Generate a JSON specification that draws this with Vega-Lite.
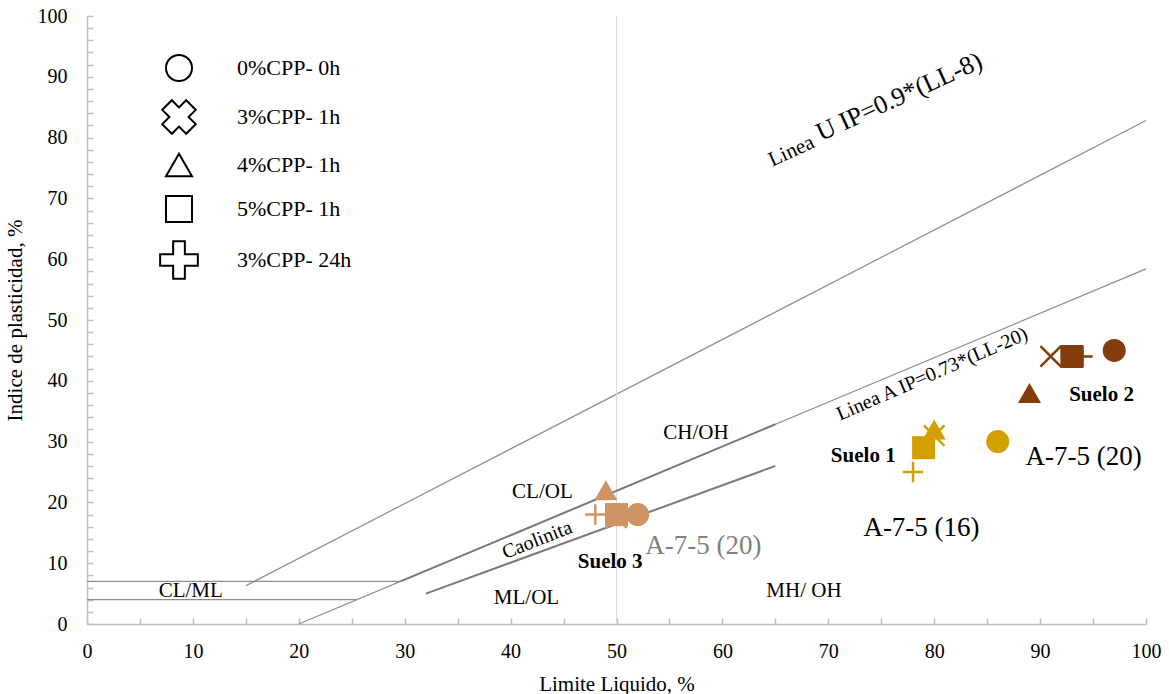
{
  "$schema": "https://vega.github.io/schema/vega-lite/v6.json",
  "autosize": "none",
  "width": 1059,
  "height": 608,
  "padding": {"left": 87, "top": 16, "right": 23, "bottom": 70},
  "background": "white",
  "config": {
    "view": {"stroke": null},
    "font": "Liberation Serif",
    "axis": {
      "grid": false,
      "domainColor": "#bfbfbf",
      "domainWidth": 1.5,
      "tickColor": "#bfbfbf",
      "tickWidth": 1.5,
      "tickSize": -6,
      "labelFont": "Liberation Serif",
      "labelFontSize": 20,
      "labelColor": "black",
      "labelOverlap": false,
      "labelFlush": false,
      "titleFont": "Liberation Serif",
      "titleFontSize": 21,
      "titleFontWeight": "normal",
      "titleColor": "black"
    }
  },
  "resolve": {"scale": {"shape": "independent"}, "legend": {"shape": "independent"}},
  "datasets": {
    "points": [
      {"suelo": "Suelo 2", "tratamiento": "0%CPP- 0h", "LL": 97, "IP": 45},
      {"suelo": "Suelo 2", "tratamiento": "3%CPP- 1h", "LL": 91, "IP": 44},
      {"suelo": "Suelo 2", "tratamiento": "4%CPP- 1h", "LL": 89, "IP": 38},
      {"suelo": "Suelo 2", "tratamiento": "5%CPP- 1h", "LL": 93, "IP": 44},
      {"suelo": "Suelo 2", "tratamiento": "3%CPP- 24h", "LL": 94, "IP": 44},
      {"suelo": "Suelo 1", "tratamiento": "0%CPP- 0h", "LL": 86, "IP": 30},
      {"suelo": "Suelo 1", "tratamiento": "3%CPP- 1h", "LL": 80, "IP": 31},
      {"suelo": "Suelo 1", "tratamiento": "4%CPP- 1h", "LL": 80, "IP": 32},
      {"suelo": "Suelo 1", "tratamiento": "5%CPP- 1h", "LL": 79, "IP": 29},
      {"suelo": "Suelo 1", "tratamiento": "3%CPP- 24h", "LL": 78, "IP": 25},
      {"suelo": "Suelo 3", "tratamiento": "0%CPP- 0h", "LL": 52, "IP": 18},
      {"suelo": "Suelo 3", "tratamiento": "3%CPP- 1h", "LL": 50, "IP": 17.5},
      {"suelo": "Suelo 3", "tratamiento": "4%CPP- 1h", "LL": 49, "IP": 22},
      {"suelo": "Suelo 3", "tratamiento": "5%CPP- 1h", "LL": 50, "IP": 18},
      {"suelo": "Suelo 3", "tratamiento": "3%CPP- 24h", "LL": 48, "IP": 18}
    ],
    "thinLines": [
      {"linea": "U", "LL": 15, "IP": 6.3},
      {"linea": "U", "LL": 100, "IP": 82.8},
      {"linea": "A", "LL": 20, "IP": 0},
      {"linea": "A", "LL": 100, "IP": 58.4},
      {"linea": "H7", "LL": 0, "IP": 7},
      {"linea": "H7", "LL": 29.6, "IP": 7},
      {"linea": "H4", "LL": 0, "IP": 4},
      {"linea": "H4", "LL": 25.5, "IP": 4}
    ],
    "thickLines": [
      {"linea": "Caolinita", "LL": 32, "IP": 5},
      {"linea": "Caolinita", "LL": 65, "IP": 26},
      {"linea": "A2", "LL": 29.6, "IP": 7},
      {"linea": "A2", "LL": 65, "IP": 32.85}
    ],
    "labels": [
      {"texto": "CH/OH", "LL": 57.5, "IP": 31.4},
      {"texto": "CL/OL", "LL": 43, "IP": 21.7},
      {"texto": "CL/ML", "LL": 9.8, "IP": 5.4},
      {"texto": "ML/OL", "LL": 41.5, "IP": 4.3},
      {"texto": "MH/ OH", "LL": 67.7, "IP": 5.4}
    ],
    "bigLabels": [
      {"texto": "A-7-5 (16)", "LL": 78.8, "IP": 15.8},
      {"texto": "A-7-5 (20)", "LL": 94.1, "IP": 27.5}
    ],
    "boldLabels": [
      {"texto": "Suelo 3", "LL": 49.4, "IP": 10.2},
      {"texto": "Suelo 1", "LL": 73.3, "IP": 27.6},
      {"texto": "Suelo 2", "LL": 95.8, "IP": 37.7}
    ]
  },
  "layer": [
    {
      "data": {"name": "thinLines"},
      "mark": {"type": "line", "color": "#8c8c8c", "strokeWidth": 1.2},
      "encoding": {
        "x": {"field": "LL", "type": "quantitative", "scale": {"domain": [0, 100], "nice": false, "zero": false}, "axis": {"title": "Limite Liquido, %", "tickCount": 100, "values": [0,5,10,15,20,25,30,35,40,45,50,55,60,65,70,75,80,85,90,95,100], "labelExpr": "datum.value % 10 === 0 ? datum.label : ''", "labelPadding": 23, "titlePadding": 12}},
        "y": {"field": "IP", "type": "quantitative", "scale": {"domain": [0, 100], "nice": false, "zero": false}, "axis": {"title": "Indice  de plasticidad, %", "tickCount": 100, "values": [0,2,4,6,8,10,12,14,16,18,20,22,24,26,28,30,32,34,36,38,40,42,44,46,48,50,52,54,56,58,60,62,64,66,68,70,72,74,76,78,80,82,84,86,88,90,92,94,96,98,100], "labelExpr": "datum.value % 10 === 0 ? datum.label : ''", "labelPadding": 26, "titlePadding": 12}},
        "detail": {"field": "linea"}
      }
    },
    {
      "data": {"values": [{"LL": 50}]},
      "mark": {"type": "rule", "color": "#d9d9d9", "strokeWidth": 1},
      "encoding": {
        "x": {"field": "LL", "type": "quantitative"}
      }
    },
    {
      "data": {"name": "thickLines"},
      "mark": {"type": "line", "color": "#7a7a7a", "strokeWidth": 2},
      "encoding": {
        "x": {"field": "LL", "type": "quantitative"},
        "y": {"field": "IP", "type": "quantitative"},
        "detail": {"field": "linea"}
      }
    },
    {
      "data": {"name": "labels"},
      "mark": {"type": "text", "font": "Liberation Serif", "fontSize": 21, "color": "black"},
      "encoding": {
        "x": {"field": "LL", "type": "quantitative"},
        "y": {"field": "IP", "type": "quantitative"},
        "text": {"field": "texto"}
      }
    },
    {
      "data": {"name": "bigLabels"},
      "mark": {"type": "text", "font": "Liberation Serif", "fontSize": 27, "color": "black"},
      "encoding": {
        "x": {"field": "LL", "type": "quantitative"},
        "y": {"field": "IP", "type": "quantitative"},
        "text": {"field": "texto"}
      }
    },
    {
      "data": {"values": [{"texto": "A-7-5 (20)", "LL": 58.2, "IP": 12.8}]},
      "mark": {"type": "text", "font": "Liberation Serif", "fontSize": 27, "color": "#7f7f7f"},
      "encoding": {
        "x": {"field": "LL", "type": "quantitative"},
        "y": {"field": "IP", "type": "quantitative"},
        "text": {"field": "texto"}
      }
    },
    {
      "data": {"name": "boldLabels"},
      "mark": {"type": "text", "font": "Liberation Serif", "fontSize": 21, "fontWeight": "bold", "color": "black"},
      "encoding": {
        "x": {"field": "LL", "type": "quantitative"},
        "y": {"field": "IP", "type": "quantitative"},
        "text": {"field": "texto"}
      }
    },
    {
      "data": {"values": [{"texto": "Linea", "LL": 64.7, "IP": 75.2}]},
      "mark": {"type": "text", "font": "Liberation Serif", "fontSize": 21, "color": "black", "angle": 335.5, "align": "left", "baseline": "alphabetic"},
      "encoding": {
        "x": {"field": "LL", "type": "quantitative"},
        "y": {"field": "IP", "type": "quantitative"},
        "text": {"field": "texto"}
      }
    },
    {
      "data": {"values": [{"texto": "U IP=0.9*(LL-8)", "LL": 69.3, "IP": 79.4}]},
      "mark": {"type": "text", "font": "Liberation Serif", "fontSize": 26, "color": "black", "angle": 335.5, "align": "left", "baseline": "alphabetic"},
      "encoding": {
        "x": {"field": "LL", "type": "quantitative"},
        "y": {"field": "IP", "type": "quantitative"},
        "text": {"field": "texto"}
      }
    },
    {
      "data": {"values": [{"texto": "Linea A IP=0.73*(LL-20)", "LL": 79.8, "IP": 41.1}]},
      "mark": {"type": "text", "font": "Liberation Serif", "fontSize": 20, "color": "black", "angle": 336.5},
      "encoding": {
        "x": {"field": "LL", "type": "quantitative"},
        "y": {"field": "IP", "type": "quantitative"},
        "text": {"field": "texto"}
      }
    },
    {
      "data": {"values": [{"texto": "Caolinita", "LL": 42.5, "IP": 13.8}]},
      "mark": {"type": "text", "font": "Liberation Serif", "fontSize": 20, "color": "black", "angle": 338.5},
      "encoding": {
        "x": {"field": "LL", "type": "quantitative"},
        "y": {"field": "IP", "type": "quantitative"},
        "text": {"field": "texto"}
      }
    },
    {
      "data": {"name": "points"},
      "transform": [{"filter": "datum.LL < 0"}],
      "mark": {"type": "point", "filled": false, "opacity": 1, "size": 676, "color": "black", "strokeWidth": 2},
      "encoding": {
        "x": {"field": "LL", "type": "quantitative"},
        "y": {"field": "IP", "type": "quantitative"},
        "shape": {
          "field": "tratamiento", "type": "nominal",
          "scale": {"domain": ["0%CPP- 0h", "3%CPP- 1h", "4%CPP- 1h", "5%CPP- 1h", "3%CPP- 24h"], "range": ["circle", "M-0.551,-1.287L-1.287,-0.551L-0.736,0L-1.287,0.551L-0.551,1.287L0,0.736L0.551,1.287L1.287,0.551L0.736,0L1.287,-0.551L0.551,-1.287L0,-0.736Z", "triangle-up", "square", "M-1.45,-0.45L-0.45,-0.45L-0.45,-1.45L0.45,-1.45L0.45,-0.45L1.45,-0.45L1.45,0.45L0.45,0.45L0.45,1.45L-0.45,1.45L-0.45,0.45L-1.45,0.45Z"]},
          "legend": {
            "orient": "none", "legendX": 78, "legendY": 38, "title": null,
            "labelFont": "Liberation Serif", "labelFontSize": 22, "labelColor": "black",
            "symbolSize": 676, "rowPadding": 11, "labelOffset": 44,
            "symbolStrokeWidth": 2, "symbolStrokeColor": "black", "symbolFillColor": "white", "symbolOpacity": 1
          }
        }
      }
    },
    {
      "data": {"name": "points"},
      "transform": [{"filter": "datum.tratamiento !== '3%CPP- 1h' && datum.tratamiento !== '3%CPP- 24h'"}],
      "mark": {"type": "point", "filled": true, "opacity": 1, "size": 530},
      "encoding": {
        "x": {"field": "LL", "type": "quantitative"},
        "y": {"field": "IP", "type": "quantitative"},
        "color": {"field": "suelo", "type": "nominal", "scale": {"domain": ["Suelo 1", "Suelo 2", "Suelo 3"], "range": ["#D3A000", "#843C0C", "#D09464"]}, "legend": null},
        "shape": {
          "field": "tratamiento", "type": "nominal",
          "scale": {"domain": ["0%CPP- 0h", "4%CPP- 1h", "5%CPP- 1h"], "range": ["circle", "triangle-up", "square"]},
          "legend": null
        }
      }
    },
    {
      "data": {"name": "points"},
      "transform": [{"filter": "datum.tratamiento === '3%CPP- 1h' || datum.tratamiento === '3%CPP- 24h'"}],
      "mark": {"type": "point", "filled": false, "opacity": 1, "size": 420, "strokeWidth": 2.5},
      "encoding": {
        "x": {"field": "LL", "type": "quantitative"},
        "y": {"field": "IP", "type": "quantitative"},
        "color": {"field": "suelo", "type": "nominal", "legend": null},
        "shape": {
          "field": "tratamiento", "type": "nominal",
          "scale": {"domain": ["3%CPP- 1h", "3%CPP- 24h"], "range": ["M-1,-1L1,1M-1,1L1,-1", "M-1,0L1,0M0,-1L0,1"]},
          "legend": null
        }
      }
    }
  ]
}
